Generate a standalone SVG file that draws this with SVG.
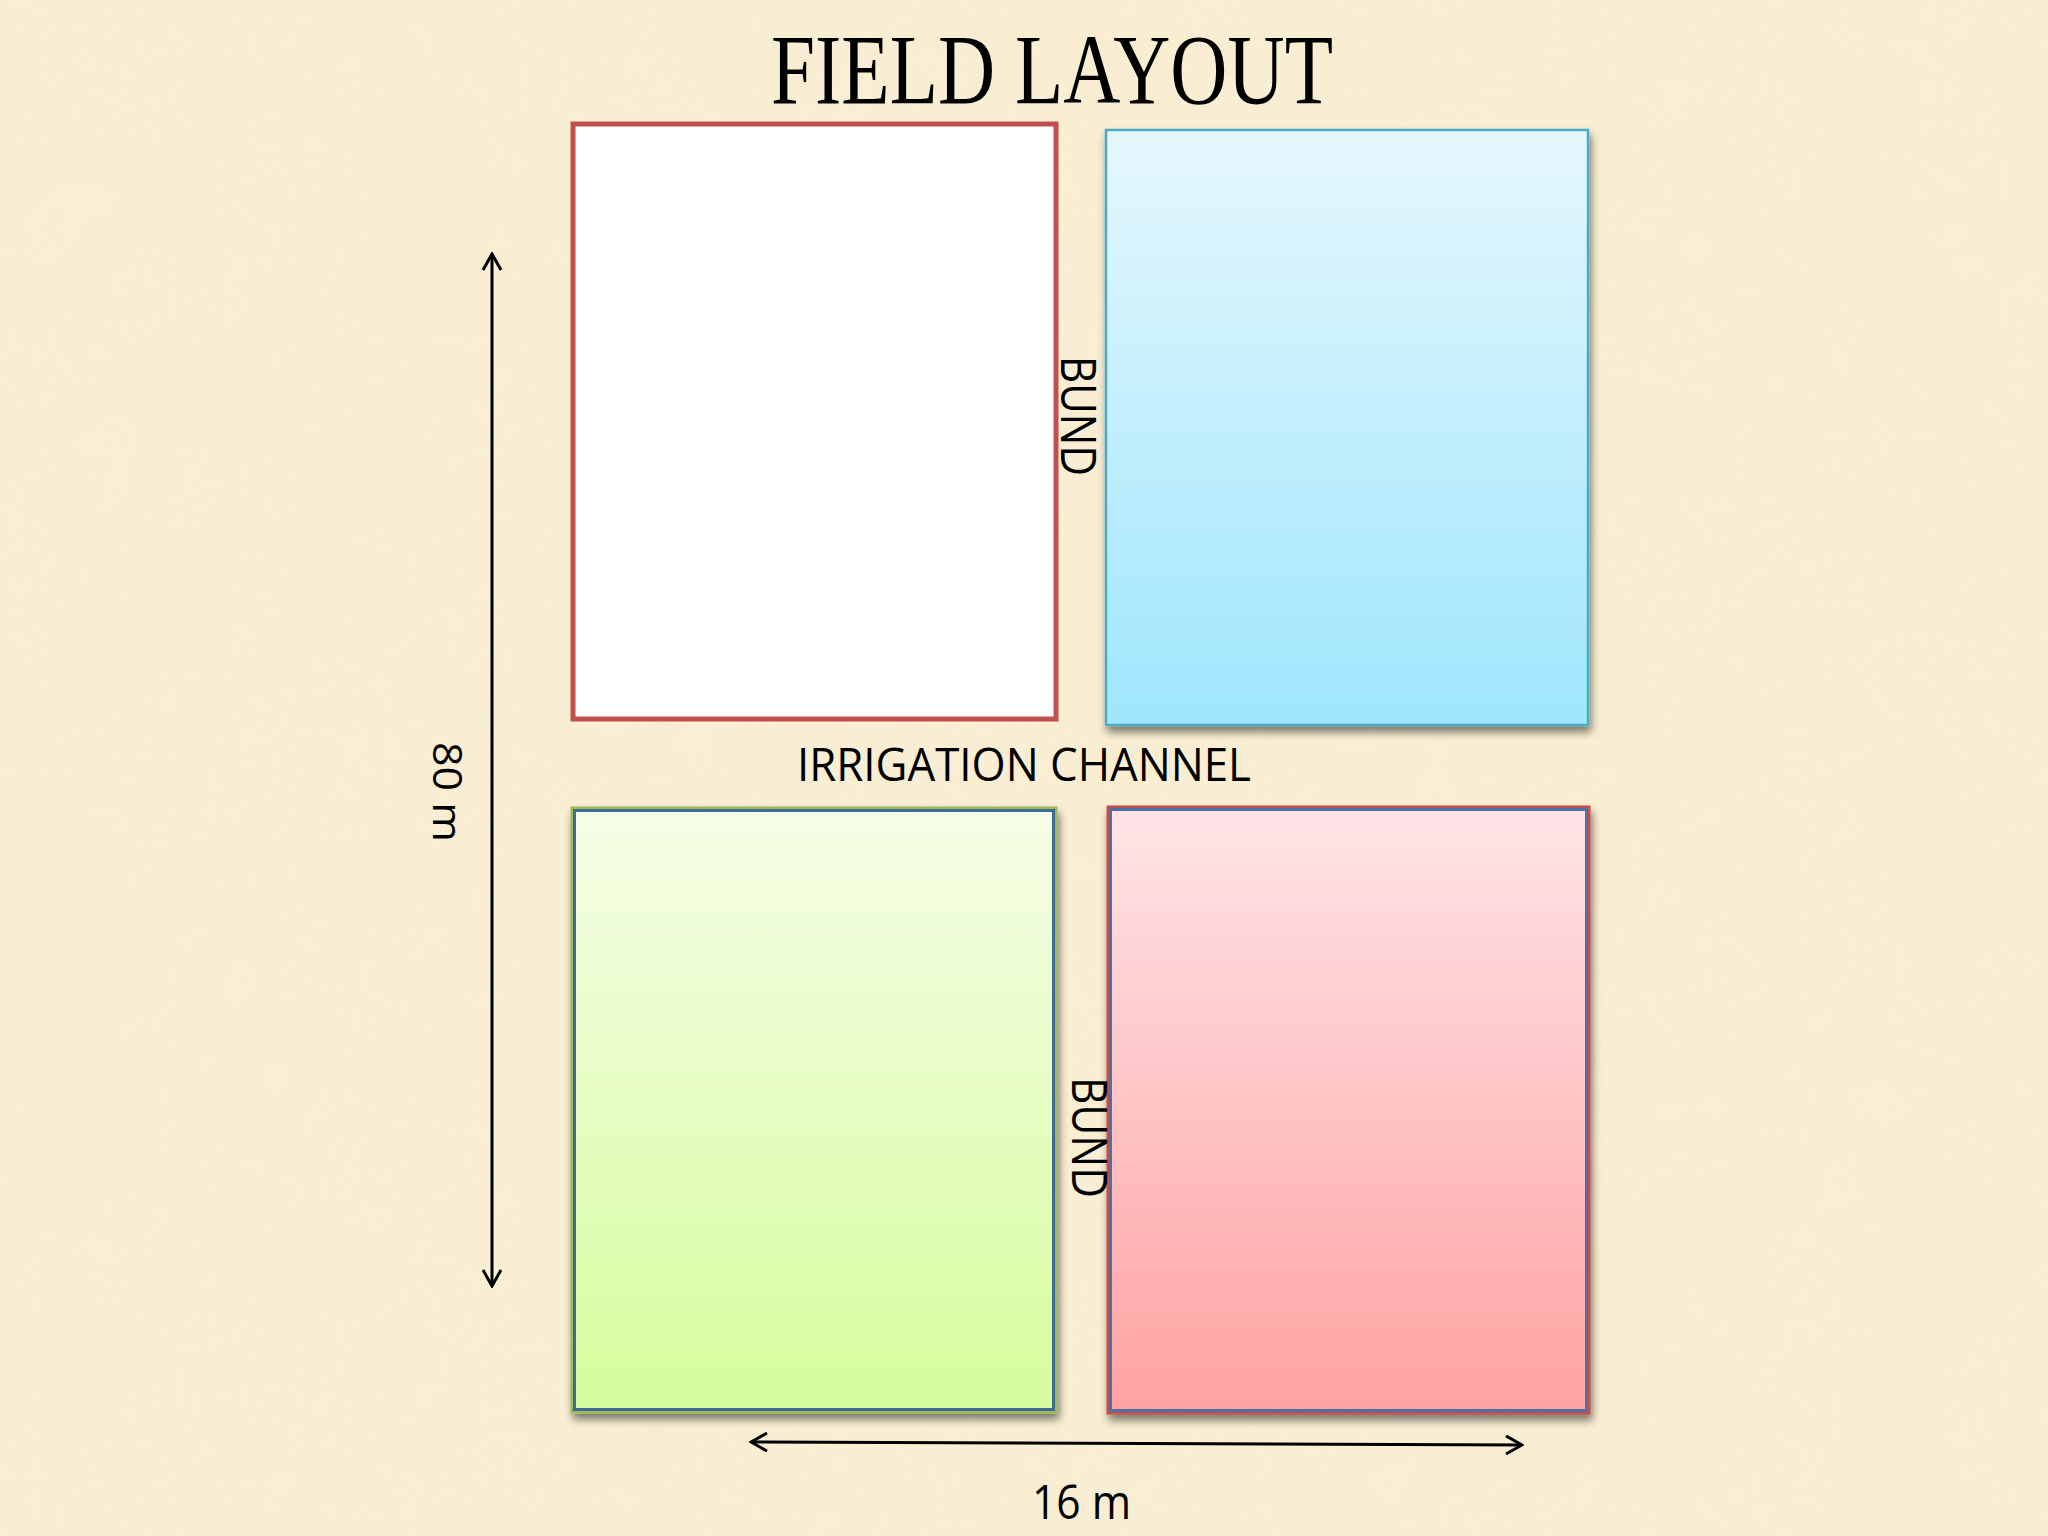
<svg xmlns="http://www.w3.org/2000/svg" width="2048" height="1536" viewBox="0 0 2048 1536">
<defs>
<filter id="paper" x="0" y="0" width="100%" height="100%">
<feTurbulence type="fractalNoise" baseFrequency="0.006" numOctaves="4" seed="3" result="n"/>
<feColorMatrix in="n" type="matrix" values="0 0 0 0 0.93  0 0 0 0 0.86  0 0 0 0 0.70  0 0 0 1.1 -0.45" result="c"/>
<feComposite in="c" in2="SourceGraphic" operator="in"/>
</filter>
<filter id="shadow" x="-5%" y="-5%" width="115%" height="115%">
<feGaussianBlur in="SourceAlpha" stdDeviation="4"/>
<feOffset dx="2" dy="6" result="b"/>
<feComponentTransfer><feFuncA type="linear" slope="0.5"/></feComponentTransfer>
<feMerge><feMergeNode/><feMergeNode in="SourceGraphic"/></feMerge>
</filter>
<linearGradient id="gBlue" x1="0" y1="0" x2="0" y2="1">
<stop offset="0" stop-color="#E6F7FD"/><stop offset="1" stop-color="#9EE6FD"/>
</linearGradient>
<linearGradient id="gGreen" x1="0" y1="0" x2="0" y2="1">
<stop offset="0" stop-color="#F6FDE7"/><stop offset="1" stop-color="#D5FD9C"/>
</linearGradient>
<linearGradient id="gPink" x1="0" y1="0" x2="0" y2="1">
<stop offset="0" stop-color="#FFE4E7"/><stop offset="1" stop-color="#FFA2A2"/>
</linearGradient>
<marker id="chev" viewBox="0 0 20 20" refX="18" refY="10" markerWidth="20" markerHeight="20" markerUnits="userSpaceOnUse" orient="auto-start-reverse">
<path d="M2,1 L18,10 L2,19" fill="none" stroke="#000" stroke-width="3"/>
</marker>
<style>
.lbl{font-family:"Open Sans","Liberation Sans",sans-serif;fill:#000}
.dim{stroke:#000;stroke-width:3;fill:none}
</style>
</defs>
<rect width="2048" height="1536" fill="#F9EED2"/>
<rect width="2048" height="1536" fill="#F9EED2" filter="url(#paper)" opacity="0.7"/>

<text x="771" y="103" font-family="Liberation Serif, serif" font-size="100" textLength="562" lengthAdjust="spacingAndGlyphs" fill="#000">FIELD LAYOUT</text>

<g id="field-white">
<rect x="573" y="124" width="483" height="595" fill="#FFFFFF" stroke="#C0504D" stroke-width="5"/>
</g>
<g id="field-blue">
<rect x="1106" y="130" width="482" height="595" fill="url(#gBlue)" stroke="#4BACC6" stroke-width="2.5" filter="url(#shadow)"/>
</g>
<g id="field-green">
<rect x="573" y="809" width="482" height="602" fill="url(#gGreen)" stroke="#9BBB59" stroke-width="5" filter="url(#shadow)"/>
<rect x="574.5" y="810.5" width="479" height="599" fill="none" stroke="#3F6A94" stroke-width="3"/>
</g>
<g id="field-pink">
<rect x="1109" y="808" width="479" height="604" fill="url(#gPink)" stroke="#C0504D" stroke-width="5" filter="url(#shadow)"/>
<rect x="1110.5" y="809.5" width="476" height="601" fill="none" stroke="#4F6FA8" stroke-width="3"/>
</g>

<g id="labels">
<text class="lbl" x="797" y="781" font-size="46" textLength="454" lengthAdjust="spacingAndGlyphs">IRRIGATION CHANNEL</text>
<text class="lbl" transform="translate(1061,356) rotate(90)" font-size="50" textLength="120" lengthAdjust="spacingAndGlyphs">BUND</text>
<text class="lbl" transform="translate(1072,1077) rotate(90)" font-size="50" textLength="121" lengthAdjust="spacingAndGlyphs">BUND</text>
<text class="lbl" transform="translate(433,742) rotate(90)" font-size="40" textLength="100" lengthAdjust="spacingAndGlyphs">80 m</text>
<text class="lbl" x="1032" y="1519" font-size="47" textLength="99" lengthAdjust="spacingAndGlyphs">16 m</text>
</g>

<g id="connectors">
<line class="dim" x1="492" y1="254" x2="492" y2="1286" marker-start="url(#chev)" marker-end="url(#chev)"/>
<line class="dim" x1="751" y1="1442" x2="1522" y2="1445" marker-start="url(#chev)" marker-end="url(#chev)"/>
</g>
</svg>
